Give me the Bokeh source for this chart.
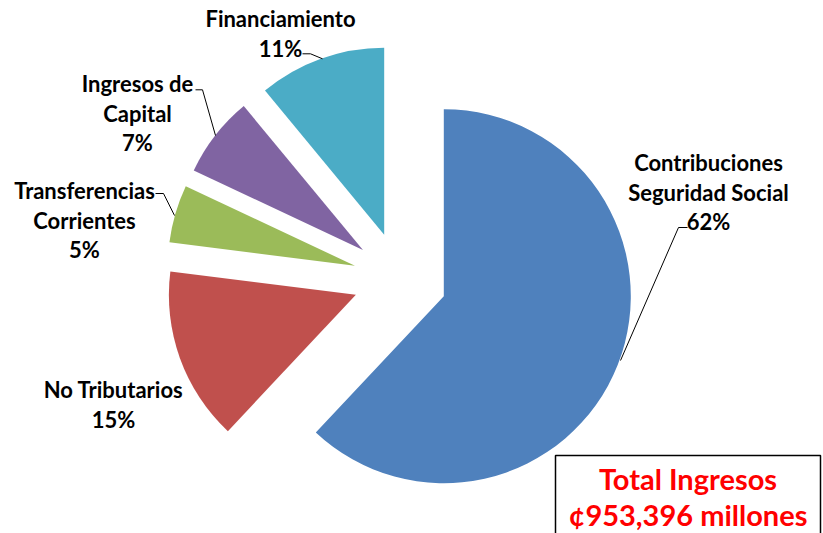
import math
from bokeh.plotting import figure
from bokeh.models import Range1d
from bokeh.embed import file_html
from bokeh.resources import INLINE
from bokeh.core.properties import value

# ---- data ----
categories = ["Contribuciones Seguridad Social", "No Tributarios",
              "Transferencias Corrientes", "Ingresos de Capital", "Financiamiento"]
label_lines = [["Contribuciones", "Seguridad Social"], ["No Tributarios"],
               ["Transferencias", "Corrientes"], ["Ingresos de", "Capital"],
               ["Financiamiento"]]
shares = [62, 15, 5, 7, 11]
colors = ["#4F81BD", "#C0504D", "#9BBB59", "#8064A2", "#4BACC6"]
total_lines = ["Total Ingresos", "¢953,396 millones"]

# ---- layout (image pixel coords, y downward) ----
W, H = 823, 533
def Y(img_y):
    return 533 - img_y

p = figure(width=W, height=H, x_range=Range1d(0, W), y_range=Range1d(533 - H, 533),
           output_backend="svg", toolbar_location=None, min_border=0)
p.axis.visible = False
p.grid.visible = False
p.outline_line_color = None
p.background_fill_color = "white"

cx, cy = 399.6, Y(278.4)
R = 187
explode = 47

total = sum(shares)
cum = 0.0
for s, c in zip(shares, colors):
    a_hi = math.radians(90 - 360 * cum / total)
    cum += s
    a_lo = math.radians(90 - 360 * cum / total)
    mid = (a_hi + a_lo) / 2
    x0 = cx + explode * math.cos(mid)
    y0 = cy + explode * math.sin(mid)
    p.wedge(x=[x0], y=[y0], radius=R, start_angle=a_lo, end_angle=a_hi,
            fill_color=c, line_color=None)

# labels
label_x = [708, 113, 84, 137, 280]
label_y0 = [162, 389, 190, 83, 18]
line_step = 29.5
for lines, s, lx, ly in zip(label_lines, shares, label_x, label_y0):
    all_lines = lines + [f"{s}%"]
    for i, t in enumerate(all_lines):
        p.text(x=[lx], y=[Y(ly + i * line_step)], text=[t], text_align="center",
               text_baseline="middle", text_font=value("Lato"),
               text_font_style="bold", text_font_size="22px", text_color="black")

# leader lines
leaders = [
    [(687, 227), (678, 227), (620, 360)],
    [(302, 53.3), (310, 53.3), (322, 58.3)],
    [(195, 89.3), (202, 89.3), (215, 135)],
    [(155, 193), (163, 193), (174, 215)],
]
for pts in leaders:
    p.line(x=[q[0] for q in pts], y=[Y(q[1]) for q in pts], line_color="black",
           line_width=1)

# total box
p.quad(left=[555], right=[820], top=[Y(455)], bottom=[Y(545)],
       fill_color="white", line_color="black", line_width=1.5)
for t, ty in zip(total_lines, [478, 514]):
    p.text(x=[687.5], y=[Y(ty)], text=[t], text_align="center",
           text_baseline="middle", text_font=value("Lato"),
           text_font_style="bold", text_font_size="29px", text_color="#FF0000")

open("out.html", "w").write(file_html(p, INLINE))
